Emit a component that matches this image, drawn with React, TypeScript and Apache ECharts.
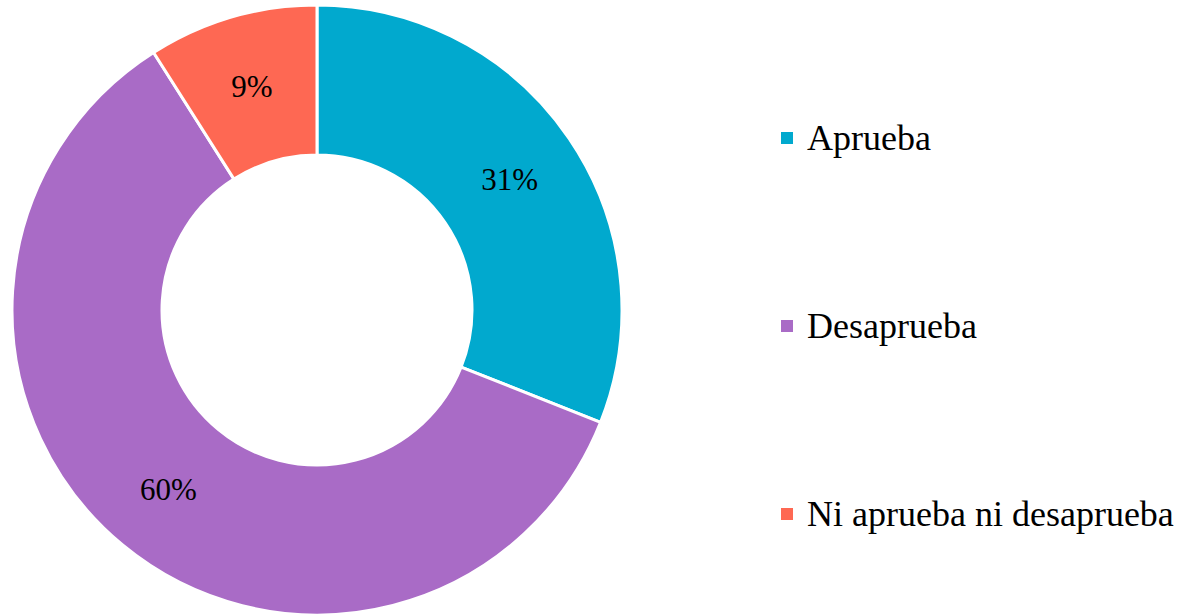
import React, { useEffect, useRef } from "react";
import * as echarts from "echarts";

const categories = ["Aprueba", "Desaprueba", "Ni aprueba ni desaprueba"];
const values = [31, 60, 9];
const colors = ["#01A9CE", "#A96BC6", "#FE6853"];

export default function App() {
  const ref = useRef<HTMLDivElement>(null);
  useEffect(() => {
    if (!ref.current) return;
    const chart = echarts.init(ref.current, null, { renderer: "svg" });
    const font = "Liberation Serif";
    chart.setOption({
      animation: false,
      backgroundColor: "#ffffff",
      color: colors,
      legend: {
        orient: "vertical",
        left: 774,
        top: 115,
        icon: "rect",
        itemWidth: 14,
        itemHeight: 14,
        itemGap: 152,
        selectedMode: false,
        textStyle: {
          fontFamily: font,
          fontSize: 36,
          color: "#000000",
          lineHeight: 36,
          padding: [0, 0, 0, 8],
        },
        data: categories,
      },
      series: [
        {
          type: "pie",
          center: [317, 310],
          radius: [155, 305],
          startAngle: 90,
          clockwise: true,
          itemStyle: { borderColor: "#ffffff", borderWidth: 3 },
          label: {
            show: true,
            position: "inside",
            formatter: "{c}%",
            fontFamily: font,
            fontSize: 31,
            color: "#000000",
          },
          labelLine: { show: false },
          data: categories.map((name, i) => ({
            name,
            value: values[i],
          })),
        },
      ],
    });
    return () => chart.dispose();
  }, []);
  return (
    <div
      ref={ref}
      style={{ position: "fixed", left: 0, top: 0, width: 1178, height: 615 }}
    />
  );
}
